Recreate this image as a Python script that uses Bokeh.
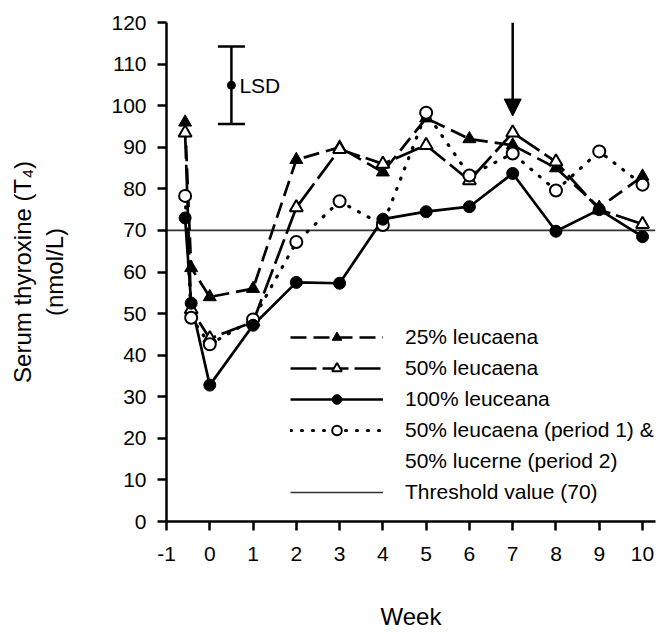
from bokeh.plotting import figure
from bokeh.models import (Range1d, FixedTicker, Legend, LegendItem, Arrow, NormalHead,
                          Whisker, TeeHead, ColumnDataSource)
from bokeh.core.properties import value
from bokeh.embed import file_html
from bokeh.resources import INLINE

# ---- data ----
weeks = [-0.57, -0.43, 0, 1, 2, 3, 4, 5, 6, 7, 8, 9, 10]
leu25 = [96, 61, 54, 56, 87, 90, 84, 97, 92, 90.5, 85, 75.5, 83]
leu50 = [93.5, 51, 44, 48, 75.5, 89.5, 86, 90.5, 82, 93.5, 86.5, 75, 71.5]
leu100 = [73, 52.5, 32.8, 47.2, 57.5, 57.3, 72.7, 74.5, 75.7, 83.7, 69.8, 75, 68.5]
mixed = [78.3, 49, 42.6, 48.6, 67.2, 77, 71.3, 98.3, 83.2, 88.5, 79.6, 89, 81]
threshold = 70
x_ticks = list(range(-1, 11))
y_ticks = list(range(0, 121, 10))
lsd_week = [0.5]
lsd_mid = [104.9]
lsd_lower = [95.6]
lsd_upper = [114.2]
arrow_week = 7
arrow_from = 120
arrow_to = 97.5

FONT = "Liberation Sans"
x_lo, x_hi = -1, 10.3

p = figure(width=659, height=632, x_range=Range1d(x_lo, x_hi), y_range=Range1d(0, 120),
           output_backend="svg", toolbar_location=None,
           min_border_left=166, min_border_right=4, min_border_top=22, min_border_bottom=110)
p.outline_line_color = None
p.xgrid.grid_line_color = None
p.ygrid.grid_line_color = None
p.background_fill_color = "white"

for ax in (p.xaxis[0], p.yaxis[0]):
    ax.axis_line_width = 2.5
    ax.axis_line_color = "black"
    ax.major_tick_line_width = 2.5
    ax.major_tick_line_color = "black"
    ax.major_tick_in = 0
    ax.major_tick_out = 9
    ax.minor_tick_line_color = None
    ax.major_label_text_font = FONT
    ax.major_label_text_font_size = "21px"
    ax.major_label_text_color = "black"
    ax.axis_label_text_font = FONT
    ax.axis_label_text_font_size = "24px"
    ax.axis_label_text_font_style = "normal"
    ax.axis_label_text_color = "black"

p.xaxis[0].ticker = FixedTicker(ticks=x_ticks)
p.xaxis[0].major_label_overrides = {t: str(t) for t in x_ticks}
p.yaxis[0].ticker = FixedTicker(ticks=y_ticks)
p.xaxis[0].major_label_standoff = 16
p.yaxis[0].major_label_standoff = 11
p.xaxis[0].axis_label = "Week"
p.xaxis[0].axis_label_standoff = 39
p.yaxis[0].axis_label = "Serum thyroxine (T\u2084)\n(nmol/L)"
p.yaxis[0].axis_label_standoff = 40

# threshold line
thr = p.line(x=[x_lo, x_hi], y=[threshold, threshold], line_color="#333333", line_width=1.6)

# series
r25l = p.line(weeks, leu25, line_color="black", line_width=2.7, line_dash="16 7")
r50l = p.line(weeks, leu50, line_color="black", line_width=2.7, line_dash="26 6")
rmxl = p.line(weeks, mixed, line_color="black", line_width=3.2, line_dash="1 10", line_cap="round")
r100l = p.line(weeks, leu100, line_color="black", line_width=2.7)

r25m = p.scatter(weeks, leu25, marker="triangle", size=13, fill_color="black", line_color="black")
r50m = p.scatter(weeks, leu50, marker="triangle", size=13, fill_color="white", line_color="black", line_width=2)
rmxm = p.scatter(weeks, mixed, marker="circle", size=12, fill_color="white", line_color="black", line_width=2)
r100m = p.scatter(weeks, leu100, marker="circle", size=12, fill_color="black", line_color="black")

# LSD bar
lsd_src = ColumnDataSource(dict(x=lsd_week, mid=lsd_mid, lo=lsd_lower, hi=lsd_upper, t=["LSD"]))
p.add_layout(Whisker(source=lsd_src, base="x", lower="lo", upper="hi", dimension="height",
                     line_width=2.5, line_color="black",
                     lower_head=TeeHead(size=27, line_width=2.5, line_color="black"),
                     upper_head=TeeHead(size=27, line_width=2.5, line_color="black")))
p.scatter(x="x", y="mid", source=lsd_src, size=8, fill_color="black", line_color="black")
p.text(x="x", y="mid", text="t", source=lsd_src, x_offset=8, text_baseline="middle",
       text_align="left", text_font=value(FONT), text_font_size="21px", text_color="black")

# arrow at week 7
p.add_layout(Arrow(end=NormalHead(size=17, fill_color="black", line_color="black"),
                   x_start=arrow_week, y_start=arrow_from, x_end=arrow_week, y_end=arrow_to,
                   line_width=2.5, line_color="black"))

legend = Legend(items=[
    LegendItem(label="25% leucaena", renderers=[r25l, r25m]),
    LegendItem(label="50% leucaena", renderers=[r50l, r50m]),
    LegendItem(label="100% leuceana", renderers=[r100l, r100m]),
    LegendItem(label="50% leucaena (period 1) &", renderers=[rmxl, rmxm]),
    LegendItem(label="50% lucerne (period 2)", renderers=[]),
    LegendItem(label="Threshold value (70)", renderers=[thr]),
], location=(124, 17))
legend.glyph_width = 93
legend.glyph_height = 24
legend.label_height = 24
legend.spacing = 7
legend.padding = 0
legend.margin = 0
legend.label_standoff = 22
legend.label_text_font = FONT
legend.label_text_font_size = "21px"
legend.label_text_color = "black"
legend.border_line_color = None
legend.background_fill_alpha = 0
p.add_layout(legend)

open("out.html", "w").write(file_html(p, INLINE))
